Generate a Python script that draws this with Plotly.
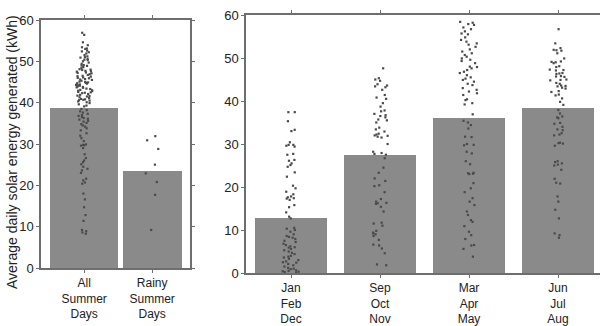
import plotly.graph_objects as go

# ---------------- data ----------------
left_categories = ["All<br>Summer<br>Days", "Rainy<br>Summer<br>Days"]
left_means = [38.7, 23.5]

right_categories = ["Jan<br>Feb<br>Dec", "Sep<br>Oct<br>Nov", "Mar<br>Apr<br>May", "Jun<br>Jul<br>Aug"]
right_means = [12.9, 27.4, 36.0, 38.4]

all_summer = [
    56.9, 56.4, 54.6, 53.9, 53.4, 53.0, 52.6, 52.2, 51.9, 51.5, 51.2, 50.9, 50.6, 50.3,
    50.0, 49.7, 49.4, 49.1, 48.9, 48.6, 48.4, 48.1, 47.9, 47.7, 47.5, 47.3, 47.1, 46.9,
    46.7, 46.5, 46.3, 46.1, 45.9, 45.7, 45.5, 45.3, 45.1, 44.9, 44.8, 44.6, 44.4, 44.3,
    44.1, 43.9, 43.8, 43.6, 43.4, 43.3, 43.1, 42.9, 42.8, 42.6, 42.4, 42.3, 42.1, 41.9,
    41.7, 41.5, 41.3, 41.1, 40.9, 40.7, 40.5, 40.3, 40.1, 39.9, 39.6, 39.3, 39.1,
    48.0, 47.2, 46.4, 45.6, 44.7, 44.2, 43.7, 43.0, 42.5, 41.6, 40.8, 40.6, 45.0, 46.0,
    47.6, 49.0, 50.4, 51.0, 52.4, 53.1,
    38.5, 38.2, 37.9, 37.6, 37.3, 37.0, 36.8, 36.5, 36.3, 36.1, 35.9, 35.6, 35.4, 35.1,
    34.8, 34.5, 34.2, 33.8, 33.3, 32.6, 32.0, 31.4, 30.7, 29.9, 29.8, 29.7, 29.6, 29.0,
    27.5, 26.6, 26.0, 25.6, 25.1, 24.5, 24.0, 23.6, 23.0, 21.6, 21.2, 20.7, 20.4, 18.0,
    16.6, 14.7, 12.8, 11.4, 9.2, 8.9, 8.6, 8.3,
]
rainy_summer = [31.9, 30.9, 28.8, 25.0, 22.9, 20.8, 17.7, 9.2]

jan_feb_dec = [
    37.4, 37.4, 35.3, 33.3, 33.0, 30.4, 29.8, 29.8, 29.6, 29.4, 27.7, 27.5, 26.3, 26.1,
    25.5, 25.1, 24.7, 23.4, 22.4, 20.3, 19.7, 18.9, 18.3, 17.8, 17.6, 17.4, 17.3, 17.0,
    15.8, 15.3, 14.1, 13.1, 12.7,
    10.5, 10.3, 10.0, 9.6, 9.0, 8.6, 8.2, 7.9, 7.5, 7.2, 6.8, 6.5, 6.2, 5.9, 5.6, 5.3,
    5.0, 4.7, 4.4, 4.0, 3.6, 3.3, 3.0, 2.7, 2.4, 2.1, 1.8, 1.5, 1.2, 0.9, 0.6, 0.4, 0.3,
    0.2, 0.1, 8.4, 6.0, 3.8, 2.5, 1.0, 0.5,
]
sep_oct_nov = [
    47.6, 45.3, 45.0, 44.7, 43.9, 43.6, 43.4, 43.2, 42.6, 41.4, 40.8, 40.5, 39.5, 38.7,
    37.8, 37.6, 37.0, 36.7, 36.5, 36.2, 35.7, 35.5, 35.0, 33.8, 33.4, 32.9, 32.4, 32.2,
    32.0, 31.9, 31.7, 31.5, 30.0, 28.2, 27.9, 27.7, 27.5, 26.7, 24.5, 23.3, 22.0, 21.4,
    20.4, 20.2, 18.8, 17.2, 16.6, 16.3, 16.2, 16.1, 15.4, 14.3, 11.7, 11.5, 11.0, 9.8,
    9.4, 9.2, 9.0, 8.6, 7.7, 6.6, 6.4, 5.7, 4.6, 2.0, 1.8,
]
mar_apr_may = [
    58.4, 58.2, 57.7, 57.1, 56.7, 55.7, 55.5, 54.2, 53.8, 53.4, 52.6, 51.5, 51.1, 50.3,
    49.9, 49.3, 48.8, 48.0, 47.6, 47.2, 46.8, 46.0, 45.5, 44.9, 44.5, 43.7, 43.0, 42.6,
    41.8, 41.4, 40.4, 40.2, 39.5, 39.2, 36.9,
    57.9, 56.2, 54.8, 53.1, 52.0, 50.7, 49.6, 47.9, 46.5, 45.2, 44.0, 42.2,
    35.4, 35.0, 34.4, 33.6, 31.7, 31.6, 30.0, 29.8, 29.7, 28.2, 27.8, 26.0, 25.3, 23.3,
    23.2, 23.1, 23.0, 20.9, 19.7, 18.8, 17.4, 16.6, 15.8, 14.3, 13.5, 12.3, 11.9, 10.9,
    9.6, 8.8, 7.9, 6.5, 6.4, 5.6, 3.8,
]
jun_jul_aug = [
    56.7, 53.4, 52.3, 51.9, 51.8, 51.7, 51.1, 49.9, 49.2, 49.1, 49.0, 48.8, 48.1, 47.9,
    47.3, 47.2, 47.1, 46.5, 46.4, 46.3, 45.8, 45.7, 45.6, 45.0, 44.9, 44.8, 44.2, 44.0,
    43.6, 43.5, 43.4, 43.1, 42.9, 42.3, 42.1, 41.5, 41.3, 40.6, 39.8, 39.1,
    37.9, 37.1, 36.4, 36.2, 36.0, 34.9, 34.7, 34.0, 33.4, 33.2, 32.5, 32.2, 32.0, 30.3,
    30.2, 30.1, 29.6, 26.0, 25.8, 25.5, 25.2, 25.0, 24.0, 21.9, 21.0, 20.8, 17.8, 16.6,
    14.7, 12.7, 9.2, 8.8, 8.2,
]

y_title = "Average daily solar energy generated (kWh)"

# ---------------- style ----------------
BAR = "#8a8a8a"
DOT = "#4a4a4a"
AXC = "#6e6e6e"
TXT = "#222222"
FONT = "Liberation Sans, Arial, sans-serif"

fig = go.Figure()

# left panel
fig.add_trace(go.Bar(x=left_categories, y=left_means, width=[1.0, 0.87],
                     marker=dict(color=BAR, line=dict(width=0)),
                     xaxis="x", yaxis="y", showlegend=False, hoverinfo="skip"))
left_x = [left_categories[0]] * len(all_summer) + [left_categories[1]] * len(rainy_summer)
fig.add_trace(go.Box(x=left_x, y=all_summer + rainy_summer, boxpoints="all", jitter=1,
                     pointpos=0, width=0.24, fillcolor="rgba(0,0,0,0)",
                     line=dict(width=0, color="rgba(0,0,0,0)"),
                     marker=dict(color=DOT, size=2.2, symbol="square"),
                     xaxis="x", yaxis="y", showlegend=False))

# right panel
fig.add_trace(go.Bar(x=right_categories, y=right_means, width=0.81,
                     marker=dict(color=BAR, line=dict(width=0)),
                     xaxis="x2", yaxis="y2", showlegend=False, hoverinfo="skip"))
season_lists = [jan_feb_dec, sep_oct_nov, mar_apr_may, jun_jul_aug]
right_x, right_y = [], []
for cat, vals in zip(right_categories, season_lists):
    right_x += [cat] * len(vals)
    right_y += vals
fig.add_trace(go.Box(x=right_x, y=right_y, boxpoints="all", jitter=1,
                     pointpos=0, width=0.22, fillcolor="rgba(0,0,0,0)",
                     line=dict(width=0, color="rgba(0,0,0,0)"),
                     marker=dict(color=DOT, size=2.2, symbol="square"),
                     xaxis="x2", yaxis="y2", showlegend=False))

axis_common = dict(showline=True, linecolor=AXC, linewidth=1.5, mirror="ticks",
                   ticks="outside", ticklen=3, tickcolor=AXC, tickwidth=1,
                   showgrid=False, zeroline=False, automargin=False)
xfont = dict(tickfont=dict(family=FONT, size=12, color=TXT))
yfont = dict(tickfont=dict(family=FONT, size=13, color=TXT))

fig.update_layout(
    width=600, height=326,
    margin=dict(l=0, r=0, t=0, b=0),
    paper_bgcolor="white", plot_bgcolor="white",
    bargap=0, boxmode="overlay",
    font=dict(family=FONT, color=TXT),
    xaxis=dict(domain=[41 / 600, 190 / 600], anchor="y", type="category",
               range=[-0.635, 1.556], **axis_common, **xfont),
    yaxis=dict(domain=[(326 - 268) / 326, (326 - 20) / 326], anchor="x",
               range=[0, 60], dtick=10, **axis_common, **yfont),
    xaxis2=dict(domain=[246 / 600, 1.0], anchor="y2", type="category",
                range=[-0.506, 3.472], **axis_common, **xfont),
    yaxis2=dict(domain=[(326 - 273) / 326, (326 - 15) / 326], anchor="x2",
                range=[0, 60], dtick=10, **axis_common, **yfont),
)
fig.update_layout(yaxis2=dict(mirror=False))

fig.add_annotation(text=y_title, xref="paper", yref="paper", x=12 / 600,
                   y=(326 - 152) / 326, textangle=-90, showarrow=False,
                   font=dict(family=FONT, size=14, color=TXT),
                   xanchor="center", yanchor="middle")

fig.write_html("out.html")
